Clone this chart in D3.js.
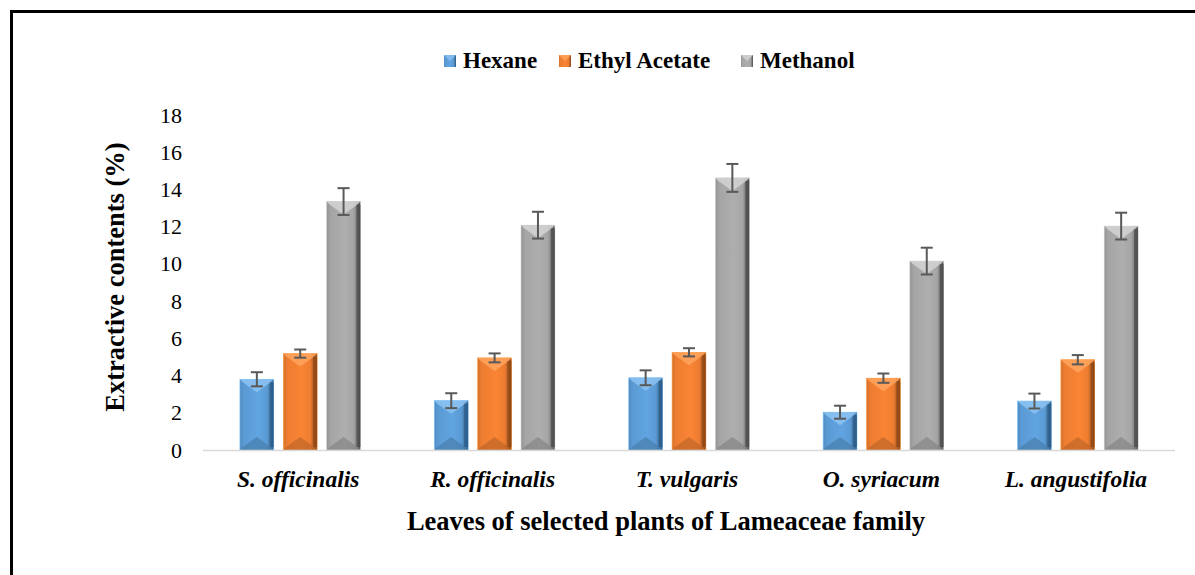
<!DOCTYPE html>
<html>
<head>
<meta charset="utf-8">
<script src="https://cdn.jsdelivr.net/npm/d3@7"></script>
<style>
  body { margin: 0; background: #fff; }
  svg { display: block; }
  svg text { font-family: "Liberation Serif", "Times New Roman", serif; fill: #000; }
</style>
</head>
<body>
<div id="chart"></div>
<script>
const plants = ["S. officinalis", "R. officinalis", "T. vulgaris", "O. syriacum", "L. angustifolia"];
const seriesNames = ["Hexane", "Ethyl Acetate", "Methanol"];
const hexane = [3.8, 2.65, 3.88, 2.03, 2.63];
const ethylAcetate = [5.18, 4.95, 5.25, 3.86, 4.85];
const methanol = [13.35, 12.08, 14.62, 10.15, 12.03];
const hexaneErr = [0.38, 0.4, 0.4, 0.35, 0.4];
const ethylErr = [0.22, 0.24, 0.22, 0.25, 0.25];
const methanolErr = [0.72, 0.72, 0.75, 0.72, 0.72];
const yTicks = [0, 2, 4, 6, 8, 10, 12, 14, 16, 18];

const width = 1195, height = 575;
const values = [hexane, ethylAcetate, methanol];
const errors = [hexaneErr, ethylErr, methanolErr];

// base, light, dark per series
const palette = {
  "Hexane": ["#5b9bd5", "#8cc3f2", "#2c5d8a"],
  "Ethyl Acetate": ["#ed7d31", "#ffa55e", "#8f4715"],
  "Methanol": ["#a5a5a5", "#d4d4d4", "#4a4a4a"]
};

const svg = d3.select("#chart").append("svg")
  .attr("width", width).attr("height", height);

// outer frame (top/left visible)
svg.append("line").attr("x1", 11).attr("x2", width).attr("y1", 11.5).attr("y2", 11.5)
  .attr("stroke", "#000").attr("stroke-width", 3);
svg.append("line").attr("x1", 11.5).attr("x2", 11.5).attr("y1", 10).attr("y2", height)
  .attr("stroke", "#000").attr("stroke-width", 3);

const defs = svg.append("defs");
seriesNames.forEach((s, i) => {
  const [base, light, dark] = palette[s];
  const g = defs.append("linearGradient").attr("id", "grad" + i)
    .attr("x1", "0").attr("x2", "1").attr("y1", "0").attr("y2", "0");
  g.append("stop").attr("offset", "0").attr("stop-color", d3.color(base).darker(0.3));
  g.append("stop").attr("offset", "0.12").attr("stop-color", base);
  g.append("stop").attr("offset", "0.55").attr("stop-color", d3.color(base).brighter(0.15));
  g.append("stop").attr("offset", "0.8").attr("stop-color", base);
  g.append("stop").attr("offset", "0.9").attr("stop-color", d3.color(base).darker(0.8));
  g.append("stop").attr("offset", "1").attr("stop-color", dark);
});

const margin = { left: 203, top: 115 };
const plotRight = 1175;
const y0 = 450;

const x0 = d3.scaleBand().domain(plants).range([margin.left, plotRight])
  .paddingInner(0.38).paddingOuter(0.19);
const x1 = d3.scaleBand().domain(seriesNames).range([0, x0.bandwidth()]).paddingInner(0.22);
const y = d3.scaleLinear().domain([0, 18]).range([y0, margin.top]);

// y axis labels (no line)
const yAxis = svg.append("g").attr("transform", `translate(${margin.left - 14},0)`)
  .call(d3.axisLeft(y).tickValues(yTicks).tickSize(0).tickPadding(7));
yAxis.select(".domain").remove();
yAxis.selectAll("text").attr("font-size", 22).attr("fill", "#000")
  .attr("font-family", "Liberation Serif");

// bars
const groups = svg.append("g").selectAll("g").data(plants).join("g")
  .attr("transform", p => `translate(${x0(p)},0)`);

seriesNames.forEach((s, si) => {
  const [base, light, dark] = palette[s];
  const bw = x1.bandwidth();
  const bev = 9;
  groups.each(function (p, pi) {
    const g = d3.select(this);
    const v = values[si][pi];
    const bx = x1(s), by = y(v), bh = y(0) - y(v);
    g.append("rect").attr("x", bx).attr("y", by).attr("width", bw).attr("height", bh)
      .attr("fill", `url(#grad${si})`).attr("stroke", d3.color(base).brighter(0.6)).attr("stroke-width", 0.6);
    // top bevel
    g.append("path")
      .attr("d", `M${bx},${by}L${bx + bw},${by}L${bx + bw - 3},${by + 3}L${bx + bw / 2},${by + bev + 4}L${bx + 3},${by + 3}Z`)
      .attr("fill", light).attr("opacity", 0.85);
    // bottom bevel
    g.append("path")
      .attr("d", `M${bx},${by + bh}L${bx + bw},${by + bh}L${bx + bw - 3},${by + bh - 3}L${bx + bw / 2},${by + bh - bev - 4}L${bx + 3},${by + bh - 3}Z`)
      .attr("fill", d3.color(base).darker(0.6)).attr("opacity", 0.7);
    // right edge darker
    g.append("rect").attr("x", bx + bw - 4).attr("y", by + 3).attr("width", 4).attr("height", Math.max(0, bh - 6))
      .attr("fill", dark).attr("opacity", 0.7);
    // error bar
    const e = errors[si][pi];
    const cx = bx + bw / 2;
    const eg = g.append("g").attr("stroke", "#595959").attr("stroke-width", 2);
    eg.append("line").attr("x1", cx).attr("x2", cx).attr("y1", y(v - e)).attr("y2", y(v + e));
    eg.append("line").attr("x1", cx - 6).attr("x2", cx + 6).attr("y1", y(v + e)).attr("y2", y(v + e));
    eg.append("line").attr("x1", cx - 6).attr("x2", cx + 6).attr("y1", y(v - e)).attr("y2", y(v - e));
  });
});

// x axis line
svg.append("line").attr("x1", margin.left).attr("x2", plotRight)
  .attr("y1", y0 + 0.5).attr("y2", y0 + 0.5).attr("stroke", "#d9d9d9").attr("stroke-width", 1.5);

// category labels
svg.append("g").selectAll("text").data(plants).join("text")
  .attr("x", p => x0(p) + x0.bandwidth() / 2 - 2)
  .attr("y", 487)
  .attr("text-anchor", "middle")
  .attr("font-size", 23.5).attr("font-weight", "bold").attr("font-style", "italic")
  .text(p => p);

// axis titles
svg.append("text").attr("x", 666).attr("y", 530).attr("text-anchor", "middle")
  .attr("font-size", 26.5).attr("font-weight", "bold")
  .text("Leaves of selected plants of Lameaceae family");

svg.append("text").attr("transform", "translate(124,277) rotate(-90)")
  .attr("text-anchor", "middle").attr("font-size", 26.5).attr("font-weight", "bold")
  .text("Extractive contents (%)");

// legend
const legendX = [444, 559, 741];
const legend = svg.append("g").selectAll("g").data(seriesNames).join("g")
  .attr("transform", (d, i) => `translate(${legendX[i]},55)`);
legend.append("rect").attr("width", 12).attr("height", 12)
  .attr("fill", (d, i) => `url(#grad${i})`);
legend.append("path").attr("d", "M0,0L12,0L6,6Z").attr("fill", d => palette[d][1]).attr("opacity", 0.8);
legend.append("text").attr("x", 19).attr("y", 13)
  .attr("font-size", 23).attr("font-weight", "bold").text(d => d);
</script>
</body>
</html>
